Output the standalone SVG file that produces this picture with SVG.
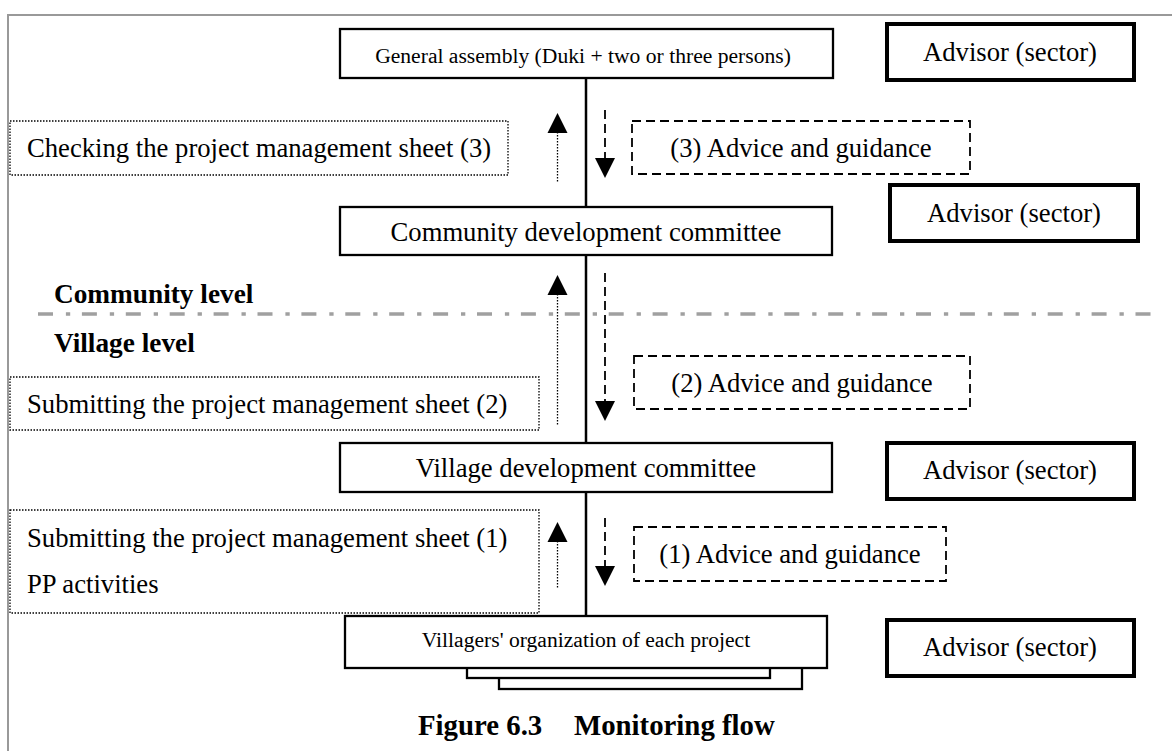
<svg xmlns="http://www.w3.org/2000/svg" width="1172" height="751" viewBox="0 0 1172 751">
<style>
  text { font-family: "Liberation Serif", "Times New Roman", serif; fill: #000; }
  .t { font-size: 26.67px; }
  .ts { font-size: 21.6px; }
  .b { font-weight: bold; font-size: 27.3px; }
  .c { text-anchor: middle; }
  .box { fill: #fff; stroke: #000; stroke-width: 2.3; }
  .adv { fill: #fff; stroke: #000; stroke-width: 4; }
  .dot { fill: none; stroke: #000; stroke-width: 1.3; stroke-dasharray: 1.5 1.5; }
  .dash { fill: none; stroke: #000; stroke-width: 1.8; stroke-dasharray: 9 5; }
  .frame { fill: none; stroke: #999; stroke-width: 2; }
</style>
<rect width="1172" height="751" fill="#fff"/>
<path class="frame" d="M8,751 V15 H1172"/>
<line x1="38" y1="314" x2="1157" y2="314" stroke="#a0a0a0" stroke-width="3.6" stroke-dasharray="15 12.9 4.3 11.7"/>

<g id="connectors">
  <line x1="586" y1="78" x2="586" y2="617" stroke="#000" stroke-width="2.5"/>
  <!-- up dotted arrows -->
  <line class="dot" x1="557.5" y1="132" x2="557.5" y2="183"/>
  <polygon points="557.5,113 547.5,133 567.5,133" fill="#000"/>
  <line class="dot" x1="557.5" y1="294" x2="557.5" y2="426"/>
  <polygon points="557.5,275 547.5,295 567.5,295" fill="#000"/>
  <line class="dot" x1="557.5" y1="541" x2="557.5" y2="589"/>
  <polygon points="557.5,522 547.5,542 567.5,542" fill="#000"/>
  <!-- down dashed arrows -->
  <line class="dash" x1="605" y1="110" x2="605" y2="159"/>
  <polygon points="605,178 595,158 615,158" fill="#000"/>
  <line class="dash" x1="605" y1="273" x2="605" y2="401"/>
  <polygon points="605,421 595,401 615,401" fill="#000"/>
  <line class="dash" x1="605" y1="518" x2="605" y2="567"/>
  <polygon points="605,586 595,566 615,566" fill="#000"/>
</g>

<g id="general-assembly">
  <rect class="box" x="340" y="29" width="493" height="49"/>
  <text class="ts c" x="583" y="63">General assembly (Duki + two or three persons)</text>
</g>
<g id="advisor-1">
  <rect class="adv" x="887" y="24" width="247" height="56"/>
  <text class="t c" x="1010" y="61">Advisor (sector)</text>
</g>
<g id="checking-3">
  <rect class="dot" x="10" y="121" width="498" height="54"/>
  <text class="t" x="27" y="157">Checking the project management sheet (3)</text>
</g>
<g id="advice-3">
  <rect class="dash" x="632" y="121" width="338" height="53"/>
  <text class="t c" x="801" y="157">(3) Advice and guidance</text>
</g>
<g id="community-committee">
  <rect class="box" x="340" y="207" width="492" height="48"/>
  <text class="t c" x="586" y="241">Community development committee</text>
</g>
<g id="advisor-2">
  <rect class="adv" x="890" y="185" width="248" height="56"/>
  <text class="t c" x="1014" y="222">Advisor (sector)</text>
</g>
<g id="level-labels">
  <text class="b" x="54" y="303">Community level</text>
  <text class="b" x="54" y="352">Village level</text>
</g>
<g id="submitting-2">
  <rect class="dot" x="10" y="377" width="529" height="53"/>
  <text class="t" x="27" y="413">Submitting the project management sheet (2)</text>
</g>
<g id="advice-2">
  <rect class="dash" x="634" y="356" width="336" height="53"/>
  <text class="t c" x="802" y="392">(2) Advice and guidance</text>
</g>
<g id="village-committee">
  <rect class="box" x="340" y="443" width="492" height="49"/>
  <text class="t c" x="586" y="477">Village development committee</text>
</g>
<g id="advisor-3">
  <rect class="adv" x="887" y="443" width="247" height="56"/>
  <text class="t c" x="1010" y="479">Advisor (sector)</text>
</g>
<g id="submitting-1">
  <rect class="dot" x="10" y="510" width="529" height="103"/>
  <text class="t" x="27" y="547">Submitting the project management sheet (1)</text>
  <text class="t" x="27" y="593">PP activities</text>
</g>
<g id="advice-1">
  <rect class="dash" x="634" y="527" width="312" height="54"/>
  <text class="t c" x="790" y="563">(1) Advice and guidance</text>
</g>
<g id="villagers-org">
  <rect class="box" x="499" y="650" width="303" height="39"/>
  <rect class="box" x="467" y="640" width="303" height="38"/>
  <rect class="box" x="345" y="616" width="482" height="52"/>
  <text class="ts c" x="586" y="647">Villagers' organization of each project</text>
</g>
<g id="advisor-4">
  <rect class="adv" x="887" y="620" width="247" height="56"/>
  <text class="t c" x="1010" y="656">Advisor (sector)</text>
</g>
<g id="caption">
  <text class="b" x="418" y="735" style="font-size:28.8px">Figure 6.3</text>
  <text class="b" x="574" y="735" style="font-size:28.8px">Monitoring flow</text>
</g>
</svg>
